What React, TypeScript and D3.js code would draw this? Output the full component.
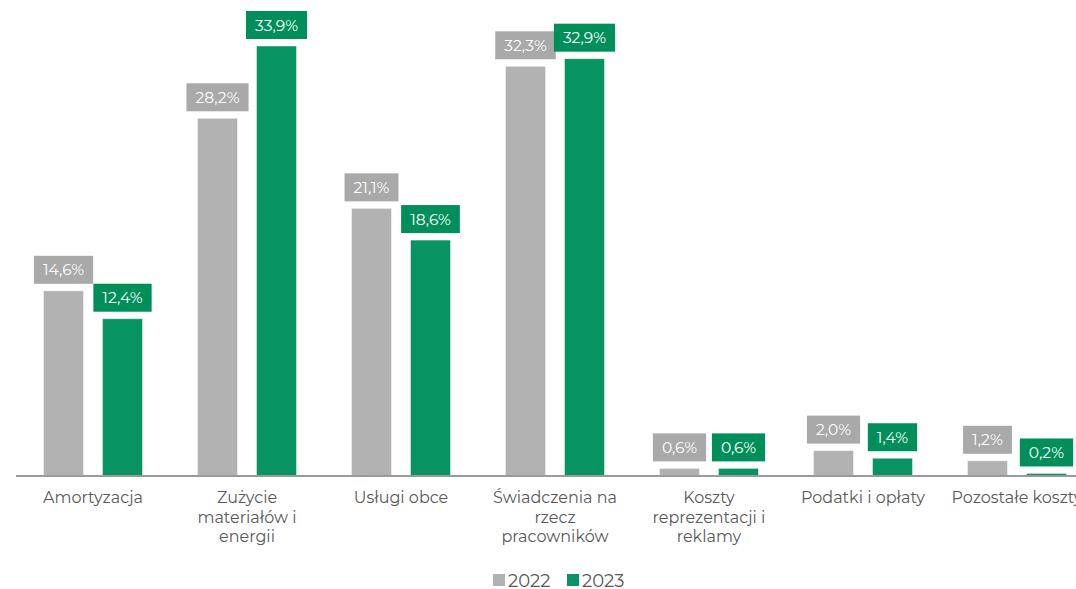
import React, { useEffect, useRef } from "react";
import * as d3 from "d3";

const categories = [
  ["Amortyzacja"],
  ["Zużycie", "materiałów i", "energii"],
  ["Usługi obce"],
  ["Świadczenia na", "rzecz", "pracowników"],
  ["Koszty", "reprezentacji i", "reklamy"],
  ["Podatki i opłaty"],
  ["Pozostałe koszty"],
];
const seriesNames = ["2022", "2023"];
const values2022 = [14.6, 28.2, 21.1, 32.3, 0.6, 2.0, 1.2];
const values2023 = [12.4, 33.9, 18.6, 32.9, 0.6, 1.4, 0.2];
const labels2022 = ["14,6%", "28,2%", "21,1%", "32,3%", "0,6%", "2,0%", "1,2%"];
const labels2023 = ["12,4%", "33,9%", "18,6%", "32,9%", "0,6%", "1,4%", "0,2%"];

const W = 1076;
const H = 589;
const FONT = "Montserrat, 'Open Sans', sans-serif";
const barColors = ["#b2b2b2", "#079462"];
const boxColors = ["#a9a9a9", "#008f5a"];

export default function App() {
  const ref = useRef<SVGSVGElement>(null);
  useEffect(() => {
    const svg = d3.select(ref.current);
    svg.selectAll("*").remove();
    const keys = categories.map((c, i) => String(i));
    const x0 = d3.scaleBand().domain(keys).range([16, 16 + 154 * 7]);
    const x1 = d3
      .scaleBand()
      .domain(seriesNames)
      .range([27.5, 126.5])
      .paddingInner(19 / 59);
    const y = d3.scaleLinear().domain([0, 33.9]).range([476, 46]);
    const series = [values2022, values2023];
    const labels = [labels2022, labels2023];

    series.forEach((vals, si) => {
      svg
        .append("g")
        .selectAll("rect")
        .data(vals)
        .join("rect")
        .attr("x", (d, i) => (x0(keys[i]) as number) + (x1(seriesNames[si]) as number))
        .attr("y", (d) => y(d))
        .attr("width", x1.bandwidth())
        .attr("height", (d) => y(0) - y(d))
        .attr("fill", barColors[si])
        .attr("stroke", "#ffffff")
        .attr("stroke-opacity", 0.45)
        .attr("stroke-width", 1);
    });

    svg
      .append("line")
      .attr("x1", 16)
      .attr("x2", W + 20)
      .attr("y1", 476)
      .attr("y2", 476)
      .attr("stroke", "#9a9a9a")
      .attr("stroke-width", 2);

    series.forEach((vals, si) => {
      vals.forEach((v, i) => {
        const cx = (x0(keys[i]) as number) + (x1(seriesNames[si]) as number) + x1.bandwidth() / 2;
        const bottom = y(v) - 7;
        const g = svg.append("g");
        const rect = g.append("rect").attr("fill", boxColors[si]);
        const t = g
          .append("text")
          .attr("x", cx)
          .attr("y", bottom - 8.5)
          .attr("text-anchor", "middle")
          .attr("font-family", FONT)
          .attr("font-size", 15.5)
          .attr("fill", "#ffffff")
          .text(labels[si][i]);
        const tw = (t.node() as SVGTextElement).getComputedTextLength();
        const bw = tw + 18;
        rect
          .attr("x", cx - bw / 2)
          .attr("y", bottom - 28)
          .attr("width", bw)
          .attr("height", 28);
      });
    });

    categories.forEach((lines, i) => {
      const cx = (x0(keys[i]) as number) + x0.bandwidth() / 2;
      const t = svg
        .append("text")
        .attr("text-anchor", "middle")
        .attr("font-family", FONT)
        .attr("font-size", 16)
        .attr("fill", "#595959");
      lines.forEach((l, li) => {
        t.append("tspan").attr("x", cx).attr("y", 503 + li * 19.5).text(l);
      });
    });

    const legendX = [493, 567];
    seriesNames.forEach((s, si) => {
      svg
        .append("rect")
        .attr("x", legendX[si])
        .attr("y", 574)
        .attr("width", 12)
        .attr("height", 12)
        .attr("fill", barColors[si]);
      svg
        .append("text")
        .attr("x", legendX[si] + 15)
        .attr("y", 587)
        .attr("font-family", FONT)
        .attr("font-size", 18)
        .attr("fill", "#595959")
        .text(s);
    });
  }, []);
  return (
    <svg
      ref={ref}
      width={W}
      height={H}
      style={{ position: "absolute", left: 0, top: 0, display: "block", background: "#fff" }}
    />
  );
}
